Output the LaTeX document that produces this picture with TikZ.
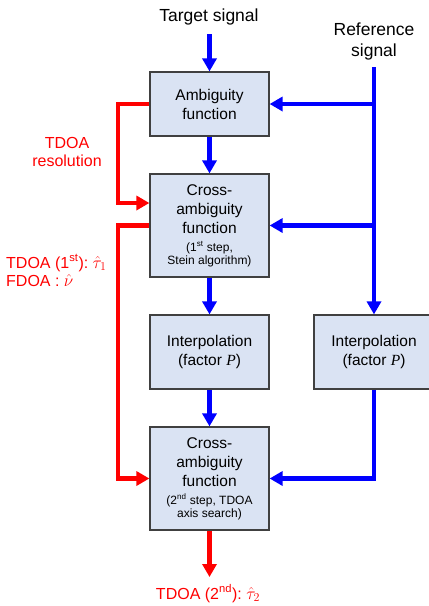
\documentclass[tikz,border=0pt]{standalone}
\usepackage{fontspec}
\setmainfont{Liberation Sans}
\newfontfamily\timesfont{Liberation Serif}
\usetikzlibrary{arrows.meta}
\definecolor{boxfill}{HTML}{DAE3F3}
\definecolor{boxline}{HTML}{404040}
\definecolor{sigblue}{RGB}{0,0,255}
\definecolor{resred}{RGB}{255,0,0}
\newcommand\smalltext{\fontsize{12}{13.5}\selectfont}
\newcommand\facP{(factor {\timesfont\itshape P})}
\newcommand\estim[1]{{\fontsize{18.5}{18.5}\selectfont$#1$}}

\tikzset{
  box/.style={draw=boxline, fill=boxfill, line width=1.2pt, minimum width=119pt,
    inner sep=0pt, align=center, font=\fontsize{15.5}{19}\selectfont},
  lab/.style={inner sep=0pt, font=\fontsize{17.5}{21}\selectfont},
  redlab/.style={inner sep=0pt, text=resred, font=\fontsize{16}{18.5}\selectfont},
  bluearrow/.style={draw=sigblue, line width=4.5pt, -{Triangle[width=14pt,length=13pt]}},
  redarrow/.style={draw=resred, line width=4.5pt, -{Triangle[width=14pt,length=13pt]}},
}

\begin{document}
\begin{tikzpicture}[x=1pt,y=-1pt]
\useasboundingbox (0,0) rectangle (429,606);
\clip (0,0) rectangle (429,606);

% processing blocks
\node[box, minimum height=64pt] (amb) at (209.5,104) {Ambiguity\\function};
\node[box, minimum height=103pt] (xa1) at (209.5,225.5)
  {Cross-\\ambiguity\\function\\[-1pt]
   {\smalltext (1\textsuperscript{st} step,}\\[-6pt]
   {\smalltext Stein algorithm)}};
\node[box, minimum height=74pt] (ipl) at (209.5,352) {Interpolation\\\facP};
\node[box, minimum height=74pt, minimum width=120pt] (ipr) at (374,352) {Interpolation\\\facP};
\node[box, minimum height=103pt] (xa2) at (209.5,478.5)
  {Cross-\\ambiguity\\function\\[-1pt]
   {\smalltext (2\textsuperscript{nd} step, TDOA}\\[-6pt]
   {\smalltext axis search)}};

% input labels
\node[lab] (tgt) at (209,17) {Target signal};
\node[lab, align=center] (ref) at (374,41.5) {Reference\\signal};

% result labels
\node[redlab, align=center] (res) at (67,152) {TDOA\\resolution};
\node[redlab, anchor=west, text height=11pt, text depth=3pt] (t1) at (6,264)
  {TDOA (1\textsuperscript{st}):\ \estim{\hat{\tau}_1}};
\node[redlab, anchor=west, text height=11pt, text depth=3pt] (f1) at (6,282)
  {FDOA : \estim{\hat{\nu}}};
\node[redlab, text height=11pt, text depth=3pt] (t2) at (208,595)
  {TDOA (2\textsuperscript{nd}):\ \estim{\hat{\tau}_2}};

% signal paths
\coordinate (tgtstart) at (209.5,34);
\coordinate (reftop) at (374,67);
\draw[bluearrow] (tgtstart) -- (amb.north);
\draw[bluearrow] (reftop) -- (ipr.north);
\draw[bluearrow] (reftop |- amb.east) -- (amb.east);
\draw[bluearrow] (reftop |- xa1.east) -- (xa1.east);
\draw[bluearrow] (amb.south) -- (xa1.north);
\draw[bluearrow] (xa1.south) -- (ipl.north);
\draw[bluearrow] (ipl.south) -- (xa2.north);
\draw[bluearrow] (ipr.south) |- (xa2.east);

% estimate paths
\coordinate (redx) at (118,0);
\coordinate (out2) at (209.5,577);
\draw[redarrow] (amb.west) -- (amb.west -| redx) |- ([yshift=22.5pt]xa1.west);
\draw[redarrow] (xa1.west) -- (xa1.west -| redx) |- (xa2.west);
\draw[redarrow] (xa2.south) -- (out2);
\end{tikzpicture}
\end{document}
